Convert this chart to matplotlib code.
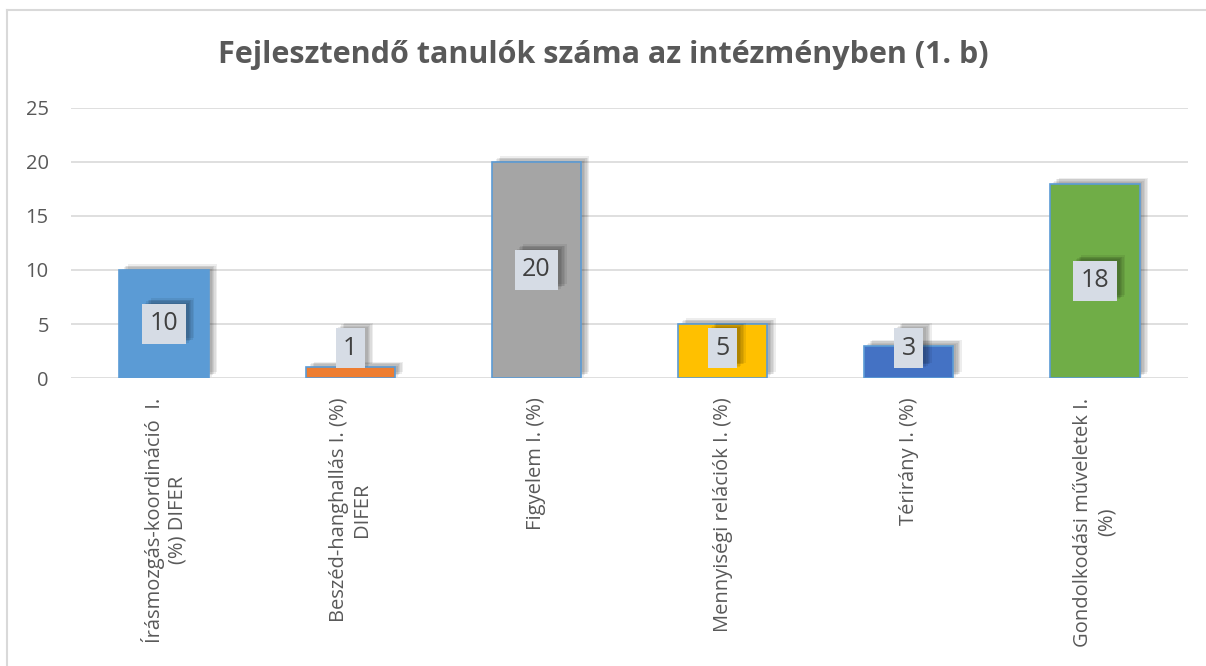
import matplotlib.pyplot as plt
from matplotlib import patheffects as pe
from matplotlib.lines import Line2D

# adatok
categories = ['Írásmozgás-koordináció  I.\n(%) DIFER',
              'Beszéd-hanghallás I. (%)\nDIFER',
              'Figyelem I. (%)',
              'Mennyiségi relációk I. (%)',
              'Térirány I. (%)',
              'Gondolkodási műveletek I.\n(%)']
values = [10, 1, 20, 5, 3, 18]
colors = ['#5B9BD5', '#ED7D31', '#A5A5A5', '#FFC000', '#4472C4', '#70AD47']
yticks = [0, 5, 10, 15, 20, 25]
title = 'Fejlesztendő tanulók száma az intézményben (1. b)'

plt.rcParams['font.family'] = ['Open Sans', 'DejaVu Sans']

fig = plt.figure(figsize=(12.06, 6.66), dpi=100)
ax = fig.add_axes([71 / 1206, 1 - 378 / 666, (1188 - 71) / 1206, 270 / 666])


def soft_shadow():
    # elmosott árnyék közelítése több halvány réteggel
    eff = []
    for dx, dy in [(6, 4), (5, 3), (4, 3), (3, 2), (2, 1)]:
        eff.append(pe.SimplePatchShadow(offset=(dx, dy), shadow_rgbFace='black', alpha=0.07))
    eff.append(pe.Normal())
    return eff


x = range(len(values))
bars = ax.bar(x, values, width=0.48, color=colors, edgecolor='#5B9BD5', linewidth=1.2, zorder=3)
for b in bars:
    b.set_path_effects(soft_shadow())

# címkék
for i, v in enumerate(values):
    ypos = max(v / 2, 2.75)
    t = ax.text(i, ypos, str(v), ha='center', va='center', fontsize=18, color='#404040', zorder=5,
                bbox=dict(boxstyle='square,pad=0.3', facecolor='#D6DCE5', edgecolor='none'))
    t.get_bbox_patch().set_path_effects(soft_shadow())

ax.set_xlim(-0.5, len(values) - 0.5)
ax.set_ylim(0, 25)
ax.set_yticks(yticks)
ax.set_xticks(list(x))
ax.set_xticklabels(categories, rotation=90, ha='center', va='top', multialignment='center')
ax.tick_params(axis='both', length=0, labelsize=14.5, colors='#595959')
ax.tick_params(axis='x', pad=14)
ax.tick_params(axis='y', pad=16)
ax.grid(axis='y', color='#D9D9D9', linewidth=1.2, zorder=0)
for s in ax.spines.values():
    s.set_visible(False)

fig.text(0.5, 1 - 55 / 666, title, ha='center', va='center', fontsize=22, fontweight='bold',
         color='#595959')

# keret
fig.add_artist(Line2D([7 / 1206, 7 / 1206], [0, 1 - 10 / 666], color='#D9D9D9', linewidth=1.5))
fig.add_artist(Line2D([7 / 1206, 1], [1 - 10 / 666, 1 - 10 / 666], color='#D9D9D9', linewidth=1.5))

plt.savefig('out.png', dpi=100)
